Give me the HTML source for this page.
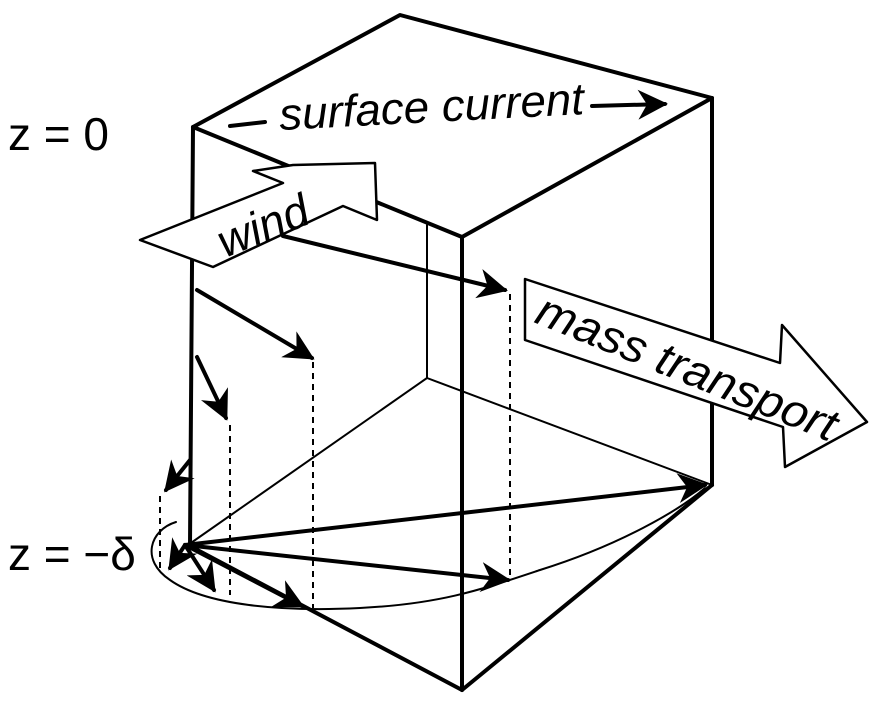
<!DOCTYPE html>
<html><head><meta charset="utf-8"><style>
html,body{margin:0;padding:0;background:#fff;}
svg{display:block}
text{font-family:"Liberation Sans",sans-serif;fill:#000}
</style></head><body>
<svg width="877" height="712" viewBox="0 0 877 712" xmlns="http://www.w3.org/2000/svg">
<defs>
<marker id="b" viewBox="0 0 10 10" refX="9" refY="5" markerWidth="7.5" markerHeight="7.5" orient="auto" markerUnits="strokeWidth">
<path d="M0,0 L10,5 L0,10 L3,5 z" fill="#000"/></marker>
</defs>
<g stroke="#000" fill="none" stroke-linecap="round" stroke-linejoin="round">
<line x1="427" y1="225" x2="427" y2="378" stroke-width="2"/>
<line x1="427" y1="378" x2="188" y2="545" stroke-width="2"/>
<line x1="427" y1="378" x2="712" y2="485" stroke-width="2"/>
<g stroke-width="2" stroke-dasharray="6,5" stroke-linecap="butt">
<line x1="510" y1="294" x2="510" y2="580"/>
<line x1="313" y1="362" x2="313" y2="608"/>
<line x1="230" y1="425" x2="230" y2="595"/>
<line x1="160" y1="496" x2="160" y2="572"/>
</g>
<g stroke-width="4">
<polygon points="193,127 400,15 712,98 462,237"/>
<line x1="193" y1="127" x2="190" y2="545"/>
<line x1="462" y1="237" x2="462" y2="690"/>
<line x1="712" y1="98" x2="712" y2="485"/>
<line x1="188" y1="545" x2="462" y2="690"/>
<line x1="462" y1="690" x2="712" y2="485"/>
</g>
<line x1="230" y1="126" x2="265" y2="122" stroke-width="4"/>
<line x1="592" y1="106" x2="665" y2="104" stroke-width="4" marker-end="url(#b)"/>
<path d="M176,522 C150,530 140,560 170,580 C205,605 280,612 360,608 C440,604 480,590 540,570 C620,545 680,510 705,488" stroke-width="2"/>
<line x1="283" y1="236" x2="505" y2="290" stroke-width="4" marker-end="url(#b)"/>
<line x1="197" y1="290" x2="312" y2="358" stroke-width="4" marker-end="url(#b)"/>
<line x1="197" y1="357" x2="226" y2="418" stroke-width="4" marker-end="url(#b)"/>
<line x1="190" y1="460" x2="166" y2="490" stroke-width="4" marker-end="url(#b)"/>
<line x1="185" y1="545" x2="705" y2="485" stroke-width="4" marker-end="url(#b)"/>
<line x1="185" y1="545" x2="508" y2="580" stroke-width="4" marker-end="url(#b)"/>
<line x1="185" y1="545" x2="302" y2="606" stroke-width="4" marker-end="url(#b)"/>
<line x1="185" y1="545" x2="214" y2="590" stroke-width="4" marker-end="url(#b)"/>
<line x1="185" y1="545" x2="170" y2="568" stroke-width="4" marker-end="url(#b)"/>
<polygon points="140,240 283,183 253,171 293,165 375,163 377,220 343,206 213,267" fill="#fff" stroke-width="2.5"/>
<polygon points="525,279 780,363 782,325 867,422 785,467 783,427 525,340" fill="#fff" stroke-width="2.5"/>
</g>
<text x="280" y="130" font-size="45" font-style="italic" textLength="305" lengthAdjust="spacingAndGlyphs" transform="rotate(-3 280 130)">surface current</text>
<text x="0" y="0" font-size="46" font-style="italic" transform="translate(225,258) rotate(-22)">wind</text>
<text x="0" y="0" font-size="46" font-style="italic" textLength="320" lengthAdjust="spacingAndGlyphs" transform="translate(533,322) rotate(22)">mass transport</text>
<text x="8" y="150" font-size="46">z = 0</text>
<text x="8" y="570" font-size="46">z = −δ</text>
</svg>
</body></html>
